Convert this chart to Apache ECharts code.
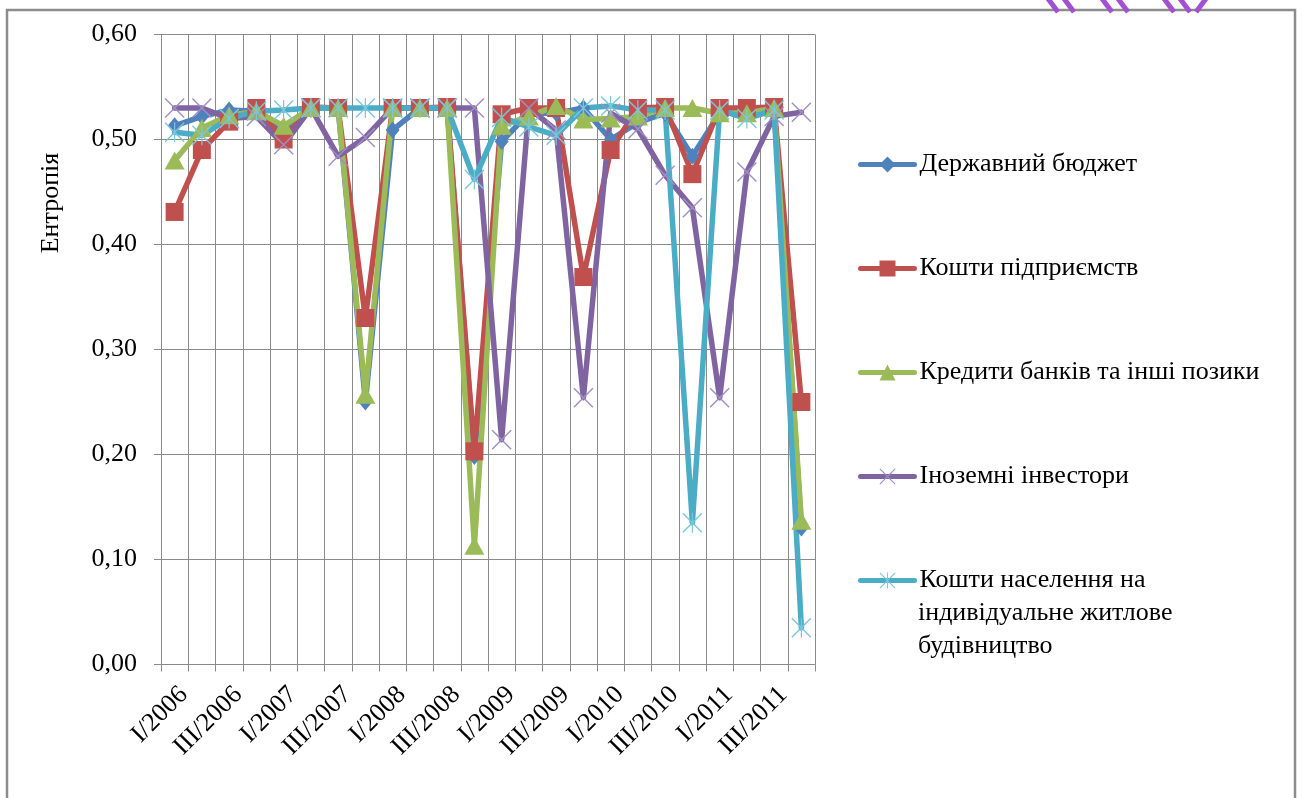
<!DOCTYPE html>
<html>
<head>
<meta charset="utf-8">
<script src="https://cdn.jsdelivr.net/npm/echarts@6/dist/echarts.min.js"></script>
<style>
  html, body { margin: 0; padding: 0; background: #fff; }
  #chart { width: 1302px; height: 798px; }
</style>
</head>
<body>
<div id="chart"></div>
<script>
// Quarterly periods 2006–2011
const quarters = [
  'I/2006', 'II/2006', 'III/2006', 'IV/2006',
  'I/2007', 'II/2007', 'III/2007', 'IV/2007',
  'I/2008', 'II/2008', 'III/2008', 'IV/2008',
  'I/2009', 'II/2009', 'III/2009', 'IV/2009',
  'I/2010', 'II/2010', 'III/2010', 'IV/2010',
  'I/2011', 'II/2011', 'III/2011', 'IV/2011'
];

// Entropy by source of financing
const stateBudget      = [0.513, 0.522, 0.528, 0.527, 0.505, 0.530, 0.530, 0.250, 0.509, 0.530, 0.530, 0.198,
                          0.498, 0.525, 0.525, 0.530, 0.500, 0.516, 0.525, 0.484, 0.525, 0.525, 0.530, 0.130];
const enterpriseFunds  = [0.431, 0.490, 0.517, 0.530, 0.500, 0.531, 0.530, 0.330, 0.530, 0.530, 0.531, 0.203,
                          0.524, 0.530, 0.530, 0.369, 0.490, 0.530, 0.531, 0.467, 0.530, 0.530, 0.531, 0.250];
const bankLoans        = [0.480, 0.511, 0.523, 0.527, 0.513, 0.530, 0.530, 0.257, 0.530, 0.530, 0.530, 0.113,
                          0.513, 0.522, 0.532, 0.519, 0.520, 0.522, 0.530, 0.530, 0.525, 0.525, 0.530, 0.137];
const foreignInvestors = [0.530, 0.530, 0.520, 0.522, 0.495, 0.530, 0.484, 0.502, 0.530, 0.530, 0.530, 0.530,
                          0.214, 0.530, 0.509, 0.254, 0.525, 0.510, 0.466, 0.435, 0.254, 0.469, 0.522, 0.526];
const householdFunds   = [0.507, 0.504, 0.520, 0.527, 0.528, 0.530, 0.530, 0.530, 0.530, 0.530, 0.530, 0.462,
                          0.521, 0.512, 0.504, 0.530, 0.532, 0.528, 0.528, 0.135, 0.528, 0.520, 0.528, 0.035];

const seriesNames = [
  'Державний бюджет',
  'Кошти підприємств',
  'Кредити банків та інші позики',
  'Іноземні інвестори',
  'Кошти населення на індивідуальне житлове будівництво'
];

const FONT = "'Liberation Serif', 'DejaVu Serif', serif";
const FONT_SIZE = 26;
const GRID_COLOR = '#8a8a8a';

// thin X and asterisk markers as filled paths
const crossPath = 'path://M0,1 L1,0 L20,19 L19,20 Z M19,0 L20,1 L1,20 L0,19 Z';
const starPath  = 'path://M0,1 L1,0 L20,19 L19,20 Z M19,0 L20,1 L1,20 L0,19 Z M9.4,0 L10.6,0 L10.6,20 L9.4,20 Z';

function makeSeries(name, data, color, markColor, symbol, size) {
  return {
    name: name,
    type: 'line',
    data: data,
    symbol: symbol,
    symbolSize: size,
    showAllSymbol: true,
    lineStyle: { color: color, width: 5.5, cap: 'round', join: 'round' },
    itemStyle: { color: markColor, borderWidth: 0 },
    emphasis: { disabled: true }
  };
}

const chart = echarts.init(document.getElementById('chart'), null, { renderer: 'canvas' });

chart.setOption({
  animation: false,
  backgroundColor: '#ffffff',
  textStyle: { fontFamily: FONT },
  grid: { left: 161, top: 34.5, width: 654, height: 630 },
  legend: {
    orient: 'vertical',
    left: 858,
    top: 149,
    padding: 0,
    itemWidth: 54,
    itemHeight: 20,
    itemGap: 73,
    lineStyle: { width: 5 },
    textStyle: { fontFamily: FONT, fontSize: FONT_SIZE, color: '#000', lineHeight: 31 },
    formatter: function (name) {
      return name === seriesNames[4] ? 'Кошти населення на' : name;
    },
    data: seriesNames
  },
  xAxis: {
    type: 'category',
    data: quarters,
    boundaryGap: true,
    axisLine: { show: true, lineStyle: { color: GRID_COLOR, width: 1 } },
    axisTick: { show: true, interval: 0, length: 7, lineStyle: { color: GRID_COLOR } },
    splitLine: { show: true, interval: 0, lineStyle: { color: GRID_COLOR, width: 1 } },
    axisLabel: {
      interval: 1,
      rotate: 45,
      margin: 17,
      verticalAlign: 'top',
      fontFamily: FONT,
      fontSize: FONT_SIZE,
      color: '#000'
    }
  },
  yAxis: {
    type: 'value',
    min: 0,
    max: 0.6,
    interval: 0.1,
    axisLine: { show: true, lineStyle: { color: GRID_COLOR, width: 1 } },
    axisTick: { show: true, length: 7, lineStyle: { color: GRID_COLOR } },
    splitLine: { show: true, lineStyle: { color: GRID_COLOR, width: 1 } },
    axisLabel: {
      margin: 24,
      fontFamily: FONT,
      fontSize: FONT_SIZE,
      color: '#000',
      formatter: function (v) { return v.toFixed(2).replace('.', ','); }
    }
  },
  series: [
    makeSeries(seriesNames[0], stateBudget,      '#4f81bd', '#4f81bd', 'diamond',  [14, 17]),
    makeSeries(seriesNames[1], enterpriseFunds,  '#c0504d', '#c0504d', 'rect',     18),
    makeSeries(seriesNames[2], bankLoans,        '#9bbb59', '#9bbb59', 'triangle', [20, 18]),
    makeSeries(seriesNames[3], foreignInvestors, '#8064a2', '#a08fc4', crossPath,  20),
    makeSeries(seriesNames[4], householdFunds,   '#4bacc6', '#7cc6da', starPath,   20)
  ],
  graphic: [
    // chart frame
    {
      type: 'rect',
      shape: { x: 7, y: 10, width: 1288, height: 800 },
      style: { fill: null, stroke: '#8c8c8c', lineWidth: 2.5 },
      z: 0, silent: true
    },
    // axis title
    {
      type: 'text',
      x: 51, y: 203,
      rotation: Math.PI / 2,
      style: { text: 'Ентропія', font: FONT_SIZE + 'px ' + FONT, fill: '#000', align: 'center', verticalAlign: 'middle' },
      silent: true
    },
    // continuation lines of the last legend entry
    {
      type: 'text',
      x: 918, y: 613,
      style: { text: 'індивідуальне житлове', font: FONT_SIZE + 'px ' + FONT, fill: '#000', align: 'left', verticalAlign: 'middle' },
      silent: true
    },
    {
      type: 'text',
      x: 918, y: 646,
      style: { text: 'будівництво', font: FONT_SIZE + 'px ' + FONT, fill: '#000', align: 'left', verticalAlign: 'middle' },
      silent: true
    },
    // decorative ribbon at the top edge
    {
      type: 'group',
      silent: true,
      children: [
        { type: 'polyline', shape: { points: [[1046, -4], [1058, 12]] }, style: { stroke: '#a24fd0', lineWidth: 5, fill: null } },
        { type: 'polyline', shape: { points: [[1062, -4], [1074, 12]] }, style: { stroke: '#a24fd0', lineWidth: 5, fill: null } },
        { type: 'polyline', shape: { points: [[1100, -4], [1112, 12]] }, style: { stroke: '#a24fd0', lineWidth: 5, fill: null } },
        { type: 'polyline', shape: { points: [[1116, -4], [1128, 12]] }, style: { stroke: '#a24fd0', lineWidth: 5, fill: null } },
        { type: 'polyline', shape: { points: [[1162, -4], [1174, 12]] }, style: { stroke: '#a24fd0', lineWidth: 5, fill: null } },
        { type: 'polyline', shape: { points: [[1178, -4], [1190, 12]] }, style: { stroke: '#a24fd0', lineWidth: 5, fill: null } },
        { type: 'polyline', shape: { points: [[1196, 12], [1208, -4]] }, style: { stroke: '#a24fd0', lineWidth: 5, fill: null } }
      ]
    }
  ]
});
</script>
</body>
</html>
